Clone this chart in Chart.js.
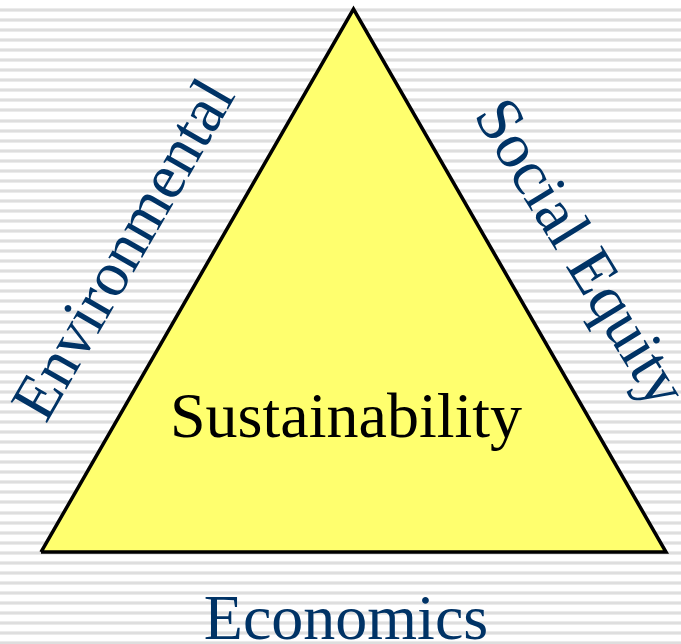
<!DOCTYPE html>
<html>
<head>
<meta charset="utf-8">
<script src="https://cdn.jsdelivr.net/npm/chart.js@4.4.0/dist/chart.umd.min.js"></script>
<style>
  html, body { margin: 0; padding: 0; background: #fff; }
  #wrap { width: 681px; height: 644px; }
</style>
</head>
<body>
<div id="wrap"><canvas id="myChart" width="681" height="644"></canvas></div>
<script>
// triangle corners (left, apex, right, back to left) in unit space
const cornerX = [0, 0.5, 1, 0];
const cornerY = [0, 1, 0, 0];

// side labels and the centre label
const sideLabels = ['Environmental', 'Social Equity', 'Economics'];
const centreLabel = 'Sustainability';

const points = cornerX.map((x, i) => ({ x: x, y: cornerY[i] }));

// light grey horizontal stripes behind everything
const stripes = {
  id: 'stripes',
  beforeDraw(chart) {
    const c = chart.ctx;
    c.save();
    c.fillStyle = '#ffffff';
    c.fillRect(0, 0, chart.width, chart.height);
    for (let y = 10; y < chart.height + 5; y += 10.05) {
      c.fillStyle = '#ebebeb';
      c.fillRect(0, Math.round(y) - 2, chart.width, 4);
      c.fillStyle = '#dedede';
      c.fillRect(0, Math.round(y) - 1, chart.width, 2);
    }
    c.restore();
  }
};

// text labels placed on the same scales as the triangle
const labels = {
  id: 'labels',
  afterDatasetsDraw(chart, args, opts) {
    const c = chart.ctx;
    const xs = chart.scales.x;
    const ys = chart.scales.y;
    c.save();
    c.textAlign = 'center';
    c.textBaseline = 'alphabetic';
    opts.items.forEach(item => {
      c.save();
      c.translate(xs.getPixelForValue(item.x), ys.getPixelForValue(item.y));
      c.rotate(item.angle * Math.PI / 180);
      c.font = item.size + 'px "Liberation Serif", "Times New Roman", serif';
      c.fillStyle = item.color;
      c.fillText(item.text, 0, 0);
      c.restore();
    });
    c.restore();
  }
};

const ctx = document.getElementById('myChart').getContext('2d');

const myChart = new Chart(ctx, {
  type: 'scatter',
  data: {
    datasets: [{
      data: points,
      showLine: true,
      fill: 'shape',
      backgroundColor: '#ffff6e',
      borderColor: '#000000',
      borderWidth: 3.5,
      borderJoinStyle: 'miter',
      pointRadius: 0,
      tension: 0
    }]
  },
  options: {
    responsive: false,
    animation: false,
    layout: { padding: 0 },
    scales: {
      x: { type: 'linear', min: -0.0656, max: 1.024, display: false },
      y: { type: 'linear', min: -0.1694, max: 1.0166, display: false }
    },
    plugins: {
      legend: { display: false },
      tooltip: { enabled: false },
      labels: {
        items: [
          { text: sideLabels[0], x: 0.160, y: 0.538, angle: -60, size: 64, color: '#003366' },
          { text: sideLabels[1], x: 0.836, y: 0.532, angle: 58.5, size: 64, color: '#003366' },
          { text: sideLabels[2], x: 0.488, y: -0.160, angle: 0, size: 64, color: '#003366' },
          { text: centreLabel, x: 0.488, y: 0.212, angle: 0, size: 64, color: '#000000' }
        ]
      }
    }
  },
  plugins: [stripes, labels]
});
</script>
</body>
</html>
